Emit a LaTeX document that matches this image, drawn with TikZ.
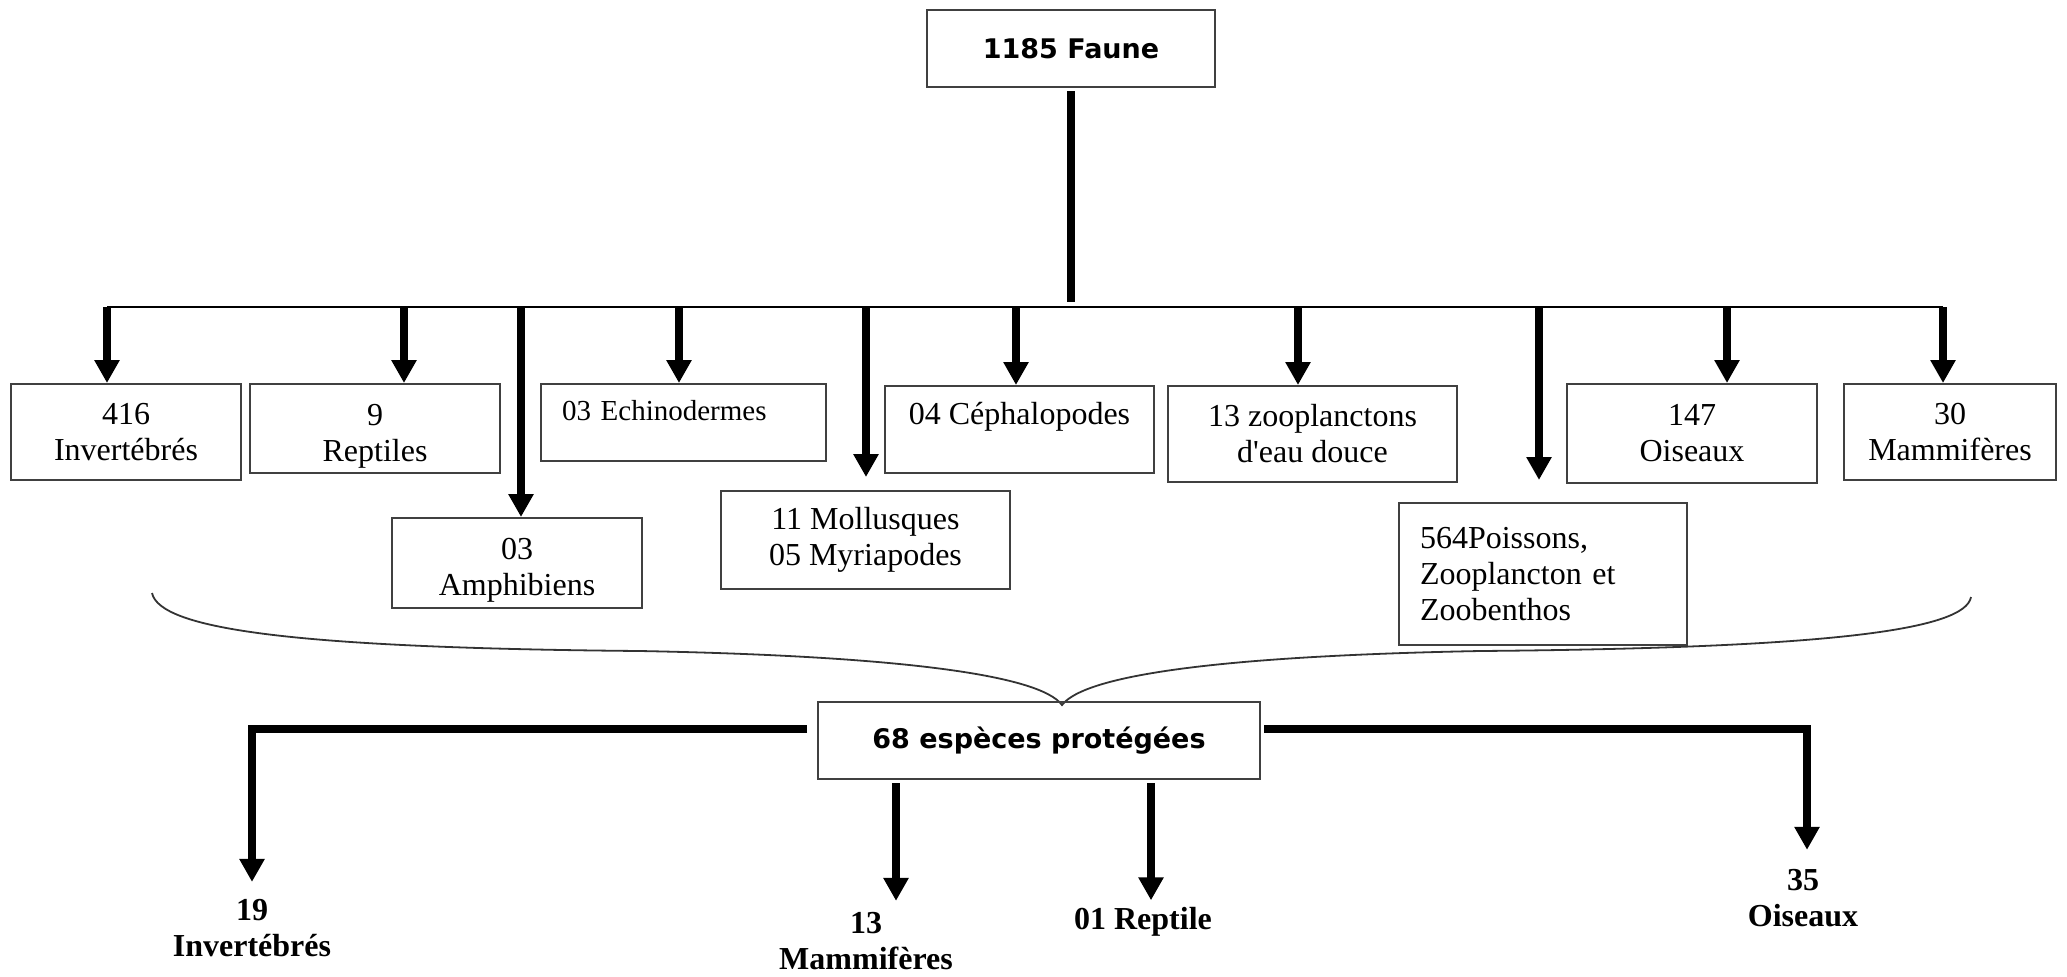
\documentclass[tikz,border=0pt]{standalone}
\usepackage{fontspec}
\setmainfont{Liberation Serif}
\newfontfamily\comicfont{DejaVu Sans}
\usetikzlibrary{arrows.meta}

\begin{document}
\begin{tikzpicture}[x=0.5pt, y=-0.5pt,
  box/.style={draw=black!75, line width=1pt, align=center, inner sep=2pt,
    font=\fontsize{16}{18}\selectfont},
  head/.style={box, font=\comicfont\bfseries\fontsize{13.5}{16}\selectfont},
  lbl/.style={align=center, inner sep=0pt, font=\bfseries\fontsize{16}{18}\selectfont},
  arr/.style={-{Triangle[width=12pt,length=11.5pt]}, line width=4pt},
  bus/.style={line width=1.2pt},
  brace/.style={line width=0.9pt, black!80}]
\useasboundingbox (0,0) rectangle (2067,976);

\node[head, minimum width=144pt, minimum height=38.5pt] (faune) at (1071,48.5) {1185 Faune};

% first level
\node[box, minimum width=115pt, minimum height=48pt] (inv) at (126,432) {416\\Invertébrés};
\node[box, text height=36pt, minimum width=125pt, minimum height=44.5pt] (rep) at (375,428.5) {9\\Reptiles};
\node[box, text height=35.5pt, minimum width=125pt, minimum height=45pt] (amph) at (517,563) {03\\Amphibiens};
\node[box, font=\fontsize{14.5}{17}\selectfont, align=left, inner xsep=10.5pt, text width=121.5pt,
  text height=11pt, text depth=13pt, minimum height=38.5pt] (ech) at (683.5,422.5) {03 Echinodermes};
\node[box, minimum width=144.5pt, minimum height=49pt] (mol) at (865.5,540) {11 Mollusques\\05 Myriapodes};
\node[box, text height=11pt, text depth=16pt, minimum width=134.5pt, minimum height=43.5pt]
  (ceph) at (1019.5,429.5) {04 Céphalopodes};
\node[box, minimum width=144.5pt, minimum height=48pt] (zoo) at (1312.5,434)
  {13 zooplanctons\\d\textquotesingle eau douce};
\node[box, align=left, inner xsep=10.5pt, text width=123pt, minimum height=71pt]
  (poi) at (1543,574) {564Poissons,\\Zooplancton et\\Zoobenthos};
\node[box, minimum width=125pt, minimum height=49.5pt] (ois) at (1692,433.5) {147\\Oiseaux};
\node[box, minimum width=106pt, minimum height=48pt] (mam) at (1950,432) {30\\Mammifères};

\foreach \n/\x in {inv/107, rep/404, amph/521, ech/679, mol/866, ceph/1016,
                   zoo/1298, poi/1539, ois/1727, mam/1943}
  \coordinate (t-\n) at (\x,307);

\draw[line width=4pt, shorten <=1.5pt, shorten >=2.5pt] (faune.south) -- (faune.south |- t-inv);
\draw[bus] (t-inv) -- (t-mam);
\foreach \n in {inv,rep,amph,ech,ceph,zoo,ois,mam}
  \draw[arr] (t-\n) -- (t-\n |- \n.north);
\draw[arr, shorten >=6.5pt] (t-mol) -- (t-mol |- mol.north);
\draw[arr, shorten >=11pt] (t-poi) -- (t-poi |- poi.north);

% brace
\draw[brace] (152,593) .. controls (160,630) and (300,648) .. (640,651)
  .. controls (900,656) and (1040,675) .. (1062,705)
  .. controls (1085,675) and (1220,656) .. (1480,651)
  .. controls (1830,648) and (1965,630) .. (1971,597);

% protected species
\node[head, minimum width=221pt, minimum height=38.5pt] (prot) at (1039,740.5) {68 espèces protégées};

\node[lbl] (l19) at (252,928) {19\\Invertébrés};
\node[lbl] (l13) at (866,941) {13\\Mammifères};
\node[lbl] (l01) at (1143,922) {01 Reptile};
\node[lbl] (l35) at (1803,898) {35\\Oiseaux};

\draw[arr, shorten <=5pt, shorten >=8.5pt] ([yshift=5.75pt]prot.west) -| (l19.north);
\draw[arr, shorten <=1.5pt, shorten >=5.5pt] ([xshift=-71.5pt]prot.south) -- ([xshift=-71.5pt]prot.south |- l13.north);
\draw[arr, shorten <=1.5pt, shorten >=3.4pt] ([xshift=56pt]prot.south) -- ([xshift=56pt]prot.south |- l01.north);
\draw[arr, shorten <=1.5pt, shorten >=9.5pt] ([yshift=5.75pt]prot.east) -| ([xshift=2pt]l35.north);
\end{tikzpicture}
\end{document}
